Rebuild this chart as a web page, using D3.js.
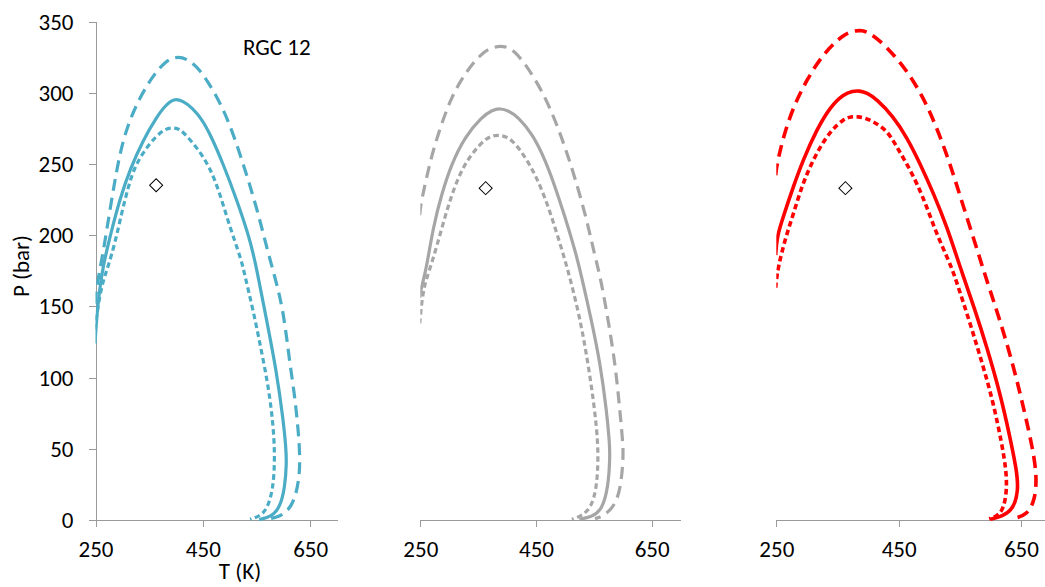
<!DOCTYPE html>
<html>
<head>
<meta charset="utf-8">
<script src="https://cdn.jsdelivr.net/npm/d3@7"></script>
<style>
  body { margin: 0; background: #fff; }
  text { font-family: Carlito, Lato, "Open Sans", sans-serif; fill: #000; }
</style>
</head>
<body>
<svg id="chart" width="1045" height="587"></svg>
<script>
// Phase envelopes, each point is [T (K), P (bar)].
// Solid = base case, long dash = upper bound, short dash = lower bound.
const blueSolid = [[249,124],[250,130],[254,150],[259,165],[264,178],[277,199],[295,225],[314,246],[339,267],[364,283],[380,291],[396,296],[412,294.5],[430,289.5],[448,281.5],[463,271.5],[488,250],[513,225],[538,197],[550,177],[569,140],[587,105],[600,70],[605,50],[606,40],[603,23],[594,9],[578,2.3],[555,0.3]];
const blueDashed = [[249,152],[250,156],[256,172],[264,187],[280,225],[295,257.5],[311,278.5],[333,297],[357,312],[380,322],[400,325.5],[420,324],[444,317],[475,298.4],[500,278.5],[525,250.4],[550,220],[572,187],[584,171],[600,147.4],[612,110],[621.5,86.6],[628,62],[631,45],[630,30],[621.5,14],[606,5],[585,1.5],[568,0.5]];
const blueDotted = [[249,134],[250,138],[258,158],[266,170],[273.5,178],[286,194],[298.5,215],[311,234],[323,248],[342,260],[364,270],[380,274.5],[392,275.5],[404,274.7],[413,272.6],[438,262],[463,248],[482,229],[500,206],[522,182.5],[528,172],[544,147],[559,119],[572,94],[581,68],[584.5,44],[581,21],[569,7],[555,2.5],[538,0.5]];

const graySolid = [[249,156],[250,160],[255,168],[261,178],[272.5,206],[287,229],[304,250],[327,269],[356,283],[375,288],[388,289],[402,287.5],[419,283],[443,271.5],[466,253],[483,234],[500,213],[517,190],[526,176],[546,140],[561,110],[572,77],[577,55],[578,45],[575,23],[564,7],[546,2],[525,0.5]];
const grayDashed = [[249,214],[250,218],[251,222],[261,241],[272.5,260],[287,278.5],[304,297],[327,313.6],[356,328],[375,332],[393,333],[410,330.5],[431,320.6],[460,302],[483,281],[500,262],[517,241],[538,210.6],[552,185],[561,171],[572,147],[587,110],[595,77],[600,55],[601,45],[598,28],[590,12],[569,3],[552,1]];
const grayDotted = [[249,138],[250,142],[253,155],[258,166],[266.8,176.7],[278.4,192],[292.7,213],[307,231.7],[324,248],[342,258.6],[362,267.5],[376,270],[388,270.2],[400,269],[414,264.5],[431,255],[448,243],[463,229],[477,213],[491.5,194],[505,176],[523,147],[535,122],[546,94],[555,65.5],[558,44],[555,23],[546,9],[529,2.8],[512,0.5]];

const redSolid = [[249,186],[251,199],[261.4,213],[277.8,234],[294,253],[316,274],[338,290],[360,299],[375,301.2],[386,301.4],[398,300],[414,295.5],[441,283.5],[463,269],[485,250.4],[507,229.4],[529,206],[551,177],[575,147.4],[594,121.7],[616,89],[632,58.5],[643,35],[646,21],[638,8],[621,2.8],[600,0.5]];
const redDashed = [[249,242],[250,246],[251.6,250.4],[261.4,269],[277.8,290],[299.7,309],[327,327.6],[360,341],[375,343.2],[390,344],[405,341.5],[430.5,332.3],[463,316],[490,297],[512,276],[534,250.4],[556,220],[582,185],[592,171],[616,140],[638,107.6],[654,79.5],[670,49],[676,30],[673,14],[660,3.5],[638,1]];
const redDotted = [[249,163],[250,168],[253.3,178],[264,196.6],[278,215],[291.5,234],[305,248],[321.5,262],[340.6,274],[360,281.5],[372,283.2],[384,283.2],[396,282.2],[408.6,279.6],[430.5,274],[447,262],[463,250.4],[480,236.4],[496,220],[512,201],[534,180],[542,171],[567,138],[588.5,107.6],[605,82],[618.6,54],[626,35],[627,20],[621,7],[610,2.5],[598,0.8]];

// Measured point shown as an open diamond in each panel
const measuredPoints = [[363,235],[363,233],[363,233]];

const xTicks = [250, 450, 650];
const yTicks = [0, 50, 100, 150, 200, 250, 300, 350];
const panelTitle = "RGC 12";
const xTitle = "T (K)";
const yTitle = "P (bar)";

// Layout of the three side-by-side panels
const axisColor = "#9a9a9a";
const fontSize = 23;
const xDomain = [250, 700];
const yDomain = [0, 350];
const plotTop = 21.5, plotBottom = 520;

const panels = [
  { x0: 95.5, x1: 337, color: "#4bacc6", width: 3.2, series: [blueSolid, blueDashed, blueDotted], point: measuredPoints[0], yAxis: true },
  { x0: 420.3, x1: 680.6, color: "#a6a6a6", width: 3.2, series: [graySolid, grayDashed, grayDotted], point: measuredPoints[1], yAxis: false },
  { x0: 776.3, x1: 1051.5, color: "#ff0000", width: 3.6, series: [redSolid, redDashed, redDotted], point: measuredPoints[2], yAxis: false }
];
const dashStyles = [null, "12,7", "5.5,3.5"];

const svg = d3.select("#chart");
const y = d3.scaleLinear().domain(yDomain).range([plotBottom, plotTop]);

panels.forEach((p, i) => {
  const x = d3.scaleLinear().domain(xDomain).range([p.x0, p.x1]);
  const g = svg.append("g");

  // clip region = plot area
  const clipId = "clip" + i;
  svg.append("clipPath").attr("id", clipId)
    .append("rect")
    .attr("x", p.x0).attr("y", 0)
    .attr("width", p.x1 - p.x0).attr("height", plotBottom + 10);

  // x axis
  const xa = g.append("g")
    .attr("transform", `translate(0,${y(0)})`)
    .call(d3.axisBottom(x).tickValues(xTicks).tickSize(7).tickSizeOuter(0).tickPadding(16).tickFormat(d3.format("d")));
  xa.select(".domain").attr("stroke", axisColor).attr("shape-rendering", "crispEdges");
  xa.selectAll(".tick line").attr("stroke", axisColor).attr("shape-rendering", "crispEdges");
  xa.selectAll(".tick text").attr("font-size", fontSize).attr("dy", "0.62em");

  // y axis only on the first panel
  if (p.yAxis) {
    const ya = g.append("g")
      .attr("transform", `translate(${p.x0},0)`)
      .call(d3.axisLeft(y).tickValues(yTicks).tickSize(7).tickSizeOuter(0).tickPadding(15));
    ya.select(".domain").attr("stroke", axisColor).attr("shape-rendering", "crispEdges");
    ya.selectAll(".tick line").attr("stroke", axisColor).attr("shape-rendering", "crispEdges");
    ya.selectAll(".tick text").attr("font-size", fontSize).attr("dy", "0.33em");

    g.append("text")
      .attr("transform", `translate(29,266) rotate(-90)`)
      .attr("text-anchor", "middle")
      .attr("font-size", fontSize)
      .text(yTitle);

    g.append("text")
      .attr("x", 240).attr("y", 579)
      .attr("text-anchor", "middle")
      .attr("font-size", fontSize)
      .text(xTitle);

    g.append("text")
      .attr("x", 243).attr("y", 54.5)
      .attr("font-size", fontSize)
      .text(panelTitle);
  }

  // envelopes
  const line = d3.line()
    .x(d => x(d[0]))
    .y(d => y(d[1]))
    .curve(d3.curveBasis);

  const lines = g.append("g").attr("clip-path", `url(#${clipId})`);
  p.series.forEach((s, k) => {
    lines.append("path")
      .attr("d", line(s))
      .attr("fill", "none")
      .attr("stroke", p.color)
      .attr("stroke-width", p.width)
      .attr("stroke-linejoin", "round")
      .attr("stroke-dasharray", dashStyles[k]);
  });

  // measured point
  g.append("path")
    .attr("d", d3.symbol().type(d3.symbolSquare).size(85)())
    .attr("transform", `translate(${x(p.point[0])},${y(p.point[1])}) rotate(45)`)
    .attr("fill", "#fff")
    .attr("stroke", "#000")
    .attr("stroke-width", 1);
});
</script>
</body>
</html>
